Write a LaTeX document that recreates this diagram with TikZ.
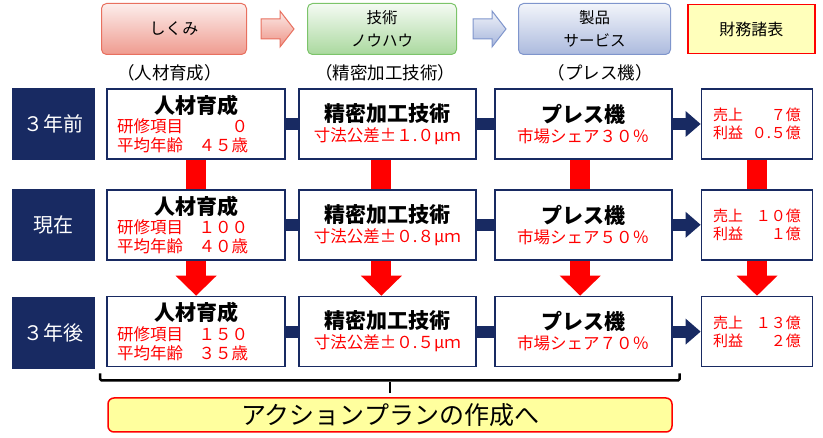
\documentclass[tikz,border=0pt]{standalone}
\usepackage{fontspec}
\setmainfont{Noto Sans CJK JP}
\usetikzlibrary{positioning,arrows.meta,backgrounds,calc}
\definecolor{kon}{HTML}{182A62}
\definecolor{aka}{HTML}{FF0000}
\definecolor{momo}{HTML}{E8705F}
\definecolor{midori}{HTML}{7CC46A}
\definecolor{ao}{HTML}{7F95CC}
\definecolor{kiiro}{HTML}{FFFF9E}
\newcommand{\titulo}[1]{{\fontsize{21}{19}\selectfont\bfseries #1}}
\newcommand{\dato}[2]{\makebox[158pt][l]{\color{aka}\makebox[131pt]{#1\hfill #2}}}

\begin{document}
\begin{tikzpicture}[x=1pt, y=1pt, font=\fontsize{16.5}{19}\selectfont,
      nen/.style={fill=kon, text=white, minimum width=83pt, minimum height=72pt,
                  inner sep=0pt, font=\fontsize{20}{24}\selectfont},
      bx/.style={draw=kon, fill=white, line width=1.8pt, minimum height=70pt,
                 inner sep=0pt, align=center},
      hd/.style={draw, rounded corners=5pt, minimum height=51pt, line width=1pt,
                 inner sep=0pt, align=center, font=\fontsize{15.5}{23.5}\selectfont},
      subt/.style={inner sep=0pt, font=\fontsize{17.5}{20}\selectfont},
      harrow/.style={line width=1pt, line join=miter},
      nbar/.style={kon, line width=12pt},
      rbar/.style={aka, line width=20pt},
      rarr/.style={rbar, -{Triangle[length=20pt, width=41pt, line width=0pt]}}]
    \useasboundingbox (0,0) rectangle (823,438);
    % cabecera
    \node[hd, draw=momo, top color=momo!12, bottom color=momo!70, minimum width=145pt,
          font=\fontsize{16}{19}\selectfont] (h1) at (174,409) {しくみ};
    \node[hd, draw=midori, top color=midori!8, bottom color=midori!65, minimum width=149pt,
          right=60pt of h1] (h2) {技術\\ノウハウ};
    \node[hd, draw=ao, top color=ao!10, bottom color=ao!65, minimum width=152pt,
          right=61pt of h2] (h3) {製品\\サービス};
    \node[hd, draw=aka, fill=kiiro!70, rounded corners=0pt, line width=1.6pt, minimum width=127pt,
          minimum height=49pt, font=\fontsize{16}{19}\selectfont, right=16pt of h3] (h4) {財務諸表};
    \draw[harrow, draw=momo, top color=momo!15, bottom color=momo!75] ($(h1.east)+(14,-10)$)
      -- ++(19,0) -- ++(0,-8) -- ++(14,18) -- ++(-14,18) -- ++(0,-8) -- ++(-19,0) -- cycle;
    \draw[harrow, draw=ao, top color=ao!12, bottom color=ao!70] ($(h2.east)+(16,-10)$)
      -- ++(19,0) -- ++(0,-8) -- ++(14,18) -- ++(-14,18) -- ++(0,-8) -- ++(-19,0) -- cycle;
    \node[subt, below=9pt of h1, xshift=-4.5pt] (s1) {（人材育成）};
    \node[subt, below=9pt of h2, xshift=3pt] (s2) {（精密加工技術）};
    \node[subt, below=9pt of h3, xshift=5.5pt] (s3) {（プレス機）};
    % 3年前
    \node[nen] (l1) at (53.5,314) {３年前};
    \node[bx, minimum width=178pt, right=11pt of l1] (j1) {\titulo{人材育成}\\[0.5pt]\dato{研修項目}{０}\\\dato{平均年齢}{４５歳}};
    \node[bx, minimum width=177pt, right=12pt of j1] (g1) {\titulo{精密加工技術}\\[1pt]{\color{aka}寸法公差±１.０μｍ}};
    \node[bx, minimum width=177pt, right=17pt of g1] (p1) {\titulo{プレス機}\\[1pt]{\color{aka}市場シェア３０％}};
    \node[bx, minimum width=111pt, text=aka, font=\fontsize{15}{18}\selectfont, right=28pt of p1] (z1)
      {\makebox[88pt]{売上\hfill ７億}\\\makebox[88pt]{利益\hfill ０.５億}};
    % 現在
    \node[nen, below=29pt of l1] (l2) {現在};
    \node[bx, minimum width=178pt, below=29pt of j1] (j2) {\titulo{人材育成}\\[0.5pt]\dato{研修項目}{１００}\\\dato{平均年齢}{４０歳}};
    \node[bx, minimum width=177pt, below=29pt of g1] (g2) {\titulo{精密加工技術}\\[1pt]{\color{aka}寸法公差±０.８μｍ}};
    \node[bx, minimum width=177pt, below=29pt of p1] (p2) {\titulo{プレス機}\\[1pt]{\color{aka}市場シェア５０％}};
    \node[bx, minimum width=111pt, text=aka, font=\fontsize{15}{18}\selectfont, below=29pt of z1] (z2)
      {\makebox[88pt]{売上\hfill １０億}\\\makebox[88pt]{利益\hfill １億}};
    % 3年後
    \node[nen, below=35pt of l2] (l3) {３年後};
    \node[bx, minimum width=178pt, below=35pt of j2] (j3) {\titulo{人材育成}\\[0.5pt]\dato{研修項目}{１５０}\\\dato{平均年齢}{３５歳}};
    \node[bx, minimum width=177pt, below=35pt of g2] (g3) {\titulo{精密加工技術}\\[1pt]{\color{aka}寸法公差±０.５μｍ}};
    \node[bx, minimum width=177pt, below=35pt of p2] (p3) {\titulo{プレス機}\\[1pt]{\color{aka}市場シェア７０％}};
    \node[bx, minimum width=111pt, text=aka, font=\fontsize{15}{18}\selectfont, below=35pt of z2] (z3)
      {\makebox[88pt]{売上\hfill １３億}\\\makebox[88pt]{利益\hfill ２億}};
    % plan
    \node[draw=aka, fill=kiiro, line width=1.5pt, rounded corners=6pt, minimum width=564pt,
          minimum height=34pt, inner sep=0pt, font=\fontsize{25}{28}\selectfont] (ap) at (390,23) {アクションプランの作成へ};
    \draw[line width=2.5pt, rounded corners=1.5pt] ([shift={(-6pt,-6pt)}]j3.south west) -- ++(0,-7)
      -| ([shift={(7pt,-6pt)}]p3.south east);
    \draw[line width=2.5pt] ([yshift=4pt]ap.north) -- ++(0,11);
    \begin{scope}[on background layer]
      \draw[nbar] (j1) -- (g1);
      \draw[nbar] (g1) -- (p1);
      \draw[nbar, -{Triangle[length=15pt, width=26pt, line width=0pt]}] (p1) -- (z1);
      \draw[nbar] (j2) -- (g2);
      \draw[nbar] (g2) -- (p2);
      \draw[nbar, -{Triangle[length=15pt, width=26pt, line width=0pt]}] (p2) -- (z2);
      \draw[nbar] (j3) -- (g3);
      \draw[nbar] (g3) -- (p3);
      \draw[nbar, -{Triangle[length=15pt, width=26pt, line width=0pt]}] (p3) -- (z3);
      \draw[rbar] (j1) -- (j2);
      \draw[rbar] ([xshift=-6pt]g1.south) -- ([xshift=-6pt]g2.north);
      \draw[rbar] ([xshift=-3pt]p1.south) -- ([xshift=-3pt]p2.north);
      \draw[rbar] (z1) -- (z2);
      \draw[rarr] (j2) -- (j3);
      \draw[rarr] ([xshift=-6pt]g2.south) -- ([xshift=-6pt]g3.north);
      \draw[rarr] ([xshift=-3pt]p2.south) -- ([xshift=-3pt]p3.north);
      \draw[rarr] (z2) -- (z3);
    \end{scope}
  \end{tikzpicture}
\end{document}
